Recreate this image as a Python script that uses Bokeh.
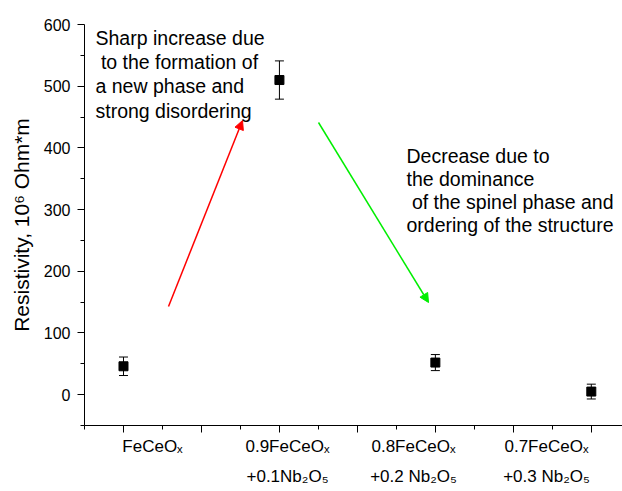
from bokeh.plotting import figure
from bokeh.models import (ColumnDataSource, Whisker, TeeHead, Arrow, NormalHead,
                          LabelSet, FixedTicker, Range1d, LinearAxis)
from bokeh.core.properties import value
from bokeh.embed import file_html
from bokeh.resources import INLINE

# ---- data -------------------------------------------------------------
sample_pos = [1, 2, 3, 4]
resistivity = [46, 510, 52, 5]          # 10^6 Ohm*m
resistivity_err = [15, 31, 13, 12]

y_ticks = [0, 100, 200, 300, 400, 500, 600]
y_minor = [-50, 50, 150, 250, 350, 450, 550]
x_ticks = [1, 1.5, 2, 2.5, 3, 3.5, 4]
x_minor = [0.75, 1.25, 1.75, 2.25, 2.75, 3.25, 3.75, 4.25]

# composition labels (line 1, line 2) with Unicode subscripts
sample_labels = [
    "FeCeOₓ",
    "0.9FeCeOₓ\n+0.1Nb₂O₅",
    "0.8FeCeOₓ\n+0.2 Nb₂O₅",
    "0.7FeCeOₓ\n+0.3 Nb₂O₅",
]

note_rise = ["Sharp increase due", " to the formation of",
             "a new phase and", "strong disordering"]
note_fall = ["Decrease due to", "the dominance",
             " of the spinel phase and", "ordering of the structure"]

# ---- layout -----------------------------------------------------------
W, H = 622, 491
FRAME_L, FRAME_T, FRAME_B = 84, 24, 425
X_RANGE = (0.75, 4.2)
Y_RANGE = (-50, 600)
FONT = "Liberation Sans"
px_x = (W - FRAME_L) / (X_RANGE[1] - X_RANGE[0])
px_y = (FRAME_B - FRAME_T) / (Y_RANGE[1] - Y_RANGE[0])


def sx_to_x(sx):
    return X_RANGE[0] + (sx - FRAME_L) / px_x


def sy_to_y(sy):
    return Y_RANGE[1] - (sy - FRAME_T) / px_y


LABEL_CENTERS = [152, 287, 413, 546]          # screen px, used on a pixel axis

NOTE_SIZE = 19.5
note_src = dict(x=[], y=[], text=[])
for lines, left, base, pitch in ((note_rise, 95, 44.3, 24.3),
                                 (note_fall, 406, 162.3, 22.9)):
    for i, line in enumerate(lines):
        lead = len(line) - len(line.lstrip(" "))
        note_src["x"].append(sx_to_x(left + lead * .278 * NOTE_SIZE))
        note_src["y"].append(sy_to_y(base + i * pitch))
        note_src["text"].append(line.lstrip(" "))

# ---- figure -----------------------------------------------------------
p = figure(width=W, height=H, x_range=Range1d(*X_RANGE), y_range=Range1d(*Y_RANGE),
           output_backend="svg", toolbar_location=None,
           min_border_left=FRAME_L, min_border_right=0,
           min_border_top=FRAME_T, min_border_bottom=H - FRAME_B)
p.extra_x_ranges = {"px": Range1d(FRAME_L, W)}
p.outline_line_color = None
p.grid.visible = False
p.background_fill_color = "white"
p.border_fill_color = "white"

for ax in (p.xaxis[0], p.yaxis[0]):
    ax.axis_line_color = "black"
    ax.axis_line_width = 1
    ax.major_tick_line_color = "black"
    ax.minor_tick_line_color = "black"
    ax.major_tick_in = 0
    ax.major_tick_out = 7
    ax.minor_tick_in = 0
    ax.minor_tick_out = 4

p.xaxis.ticker = FixedTicker(ticks=x_ticks, minor_ticks=x_minor)
p.xaxis.major_label_overrides = {t: "" for t in x_ticks}
p.xaxis.major_label_standoff = 0

# composition labels on their own axis, below the tick axis
label_axis = LinearAxis(
    x_range_name="px",
    ticker=FixedTicker(ticks=LABEL_CENTERS, minor_ticks=[]),
    major_label_overrides=dict(zip(LABEL_CENTERS, sample_labels)),
    axis_line_color=None, major_tick_line_color=None, minor_tick_line_color=None,
    major_tick_in=0, major_tick_out=0, major_label_standoff=4,
    major_label_text_font=FONT, major_label_text_font_size="17px",
    major_label_text_color="black", major_label_text_line_height=1.6,
)
p.add_layout(label_axis, "below")

p.yaxis.ticker = FixedTicker(ticks=y_ticks, minor_ticks=y_minor)
p.yaxis.major_label_text_font = FONT
p.yaxis.major_label_text_font_size = "16px"
p.yaxis.major_label_text_color = "black"
p.yaxis.major_label_standoff = 7
p.yaxis.axis_label = "Resistivity, 10\u2076 Ohm*m"
p.yaxis.axis_label_text_font = FONT
p.yaxis.axis_label_text_font_size = "21px"
p.yaxis.axis_label_text_font_style = "normal"
p.yaxis.axis_label_text_color = "black"
p.yaxis.axis_label_standoff = 8

src = ColumnDataSource(dict(
    x=sample_pos, y=resistivity,
    upper=[v + e for v, e in zip(resistivity, resistivity_err)],
    lower=[v - e for v, e in zip(resistivity, resistivity_err)],
))
p.add_layout(Whisker(base="x", upper="upper", lower="lower", source=src,
                     line_color="black", line_width=1,
                     upper_head=TeeHead(size=9, line_color="black", line_width=1),
                     lower_head=TeeHead(size=9, line_color="black", line_width=1)))
p.scatter("x", "y", source=src, marker="square", size=9,
          fill_color="black", line_color="black")

# trend arrows
for (sx0, sy0, sx1, sy1), col in (((168, 306, 242, 120), "#ff0000"),
                                  ((318, 122, 428, 302), "#00ee00")):
    p.add_layout(Arrow(x_start=sx_to_x(sx0), y_start=sy_to_y(sy0),
                       x_end=sx_to_x(sx1), y_end=sy_to_y(sy1),
                       line_color=col, line_width=1.5,
                       end=NormalHead(size=9, fill_color=col, line_color=col)))

p.add_layout(LabelSet(source=ColumnDataSource(note_src), x="x", y="y", text="text",
                      text_font=value(FONT), text_font_size=value(f"{NOTE_SIZE}px"),
                      text_color="black", text_align="left",
                      text_baseline="alphabetic"))

open("out.html", "w").write(file_html(p, INLINE))
